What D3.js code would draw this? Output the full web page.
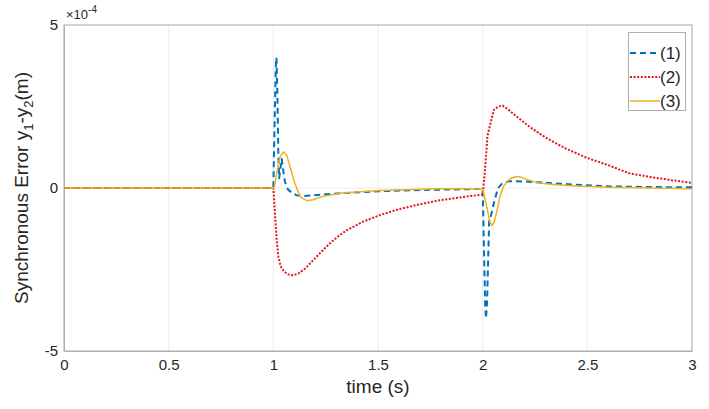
<!DOCTYPE html>
<html><head><meta charset="utf-8">
<script src="https://cdn.jsdelivr.net/npm/d3@7"></script>
<style>body{margin:0;background:#fff}svg{display:block;font-family:"Liberation Sans",Arial,sans-serif}</style>
</head><body><svg id="c" width="709" height="409"></svg>
<script>
// values in units of 1e-4 m
const s1t = [0,1.0,1.006,1.012,1.015,1.019,1.024,1.028,1.034,1.04,1.046,1.055,1.07,1.09,1.11,1.14,1.18,1.25,1.35,1.5,1.7,1.9,2.0,2.006,2.012,2.016,2.021,2.027,2.031,2.038,2.047,2.06,2.074,2.09,2.11,2.13,2.2,2.3,2.45,2.6,2.8,3.0];
const s1v = [0,0,2.0,3.8,4.0,3.0,1.0,0.3,0.6,0.9,0.6,0.2,-0.05,-0.15,-0.22,-0.25,-0.23,-0.19,-0.15,-0.1,-0.06,-0.04,-0.03,-1.8,-3.6,-4.0,-3.5,-2.0,-1.0,-0.9,-0.64,-0.3,0.0,0.12,0.18,0.21,0.2,0.16,0.1,0.05,0.03,0.02];
const s2t = [0,1.0,1.008,1.016,1.024,1.035,1.05,1.07,1.095,1.12,1.15,1.19,1.23,1.27,1.31,1.35,1.43,1.51,1.6,1.7,1.8,1.9,2.0,2.008,2.015,2.023,2.038,2.054,2.075,2.095,2.12,2.17,2.23,2.3,2.4,2.5,2.6,2.7,2.8,2.9,3.0];
const s2v = [0,0,-0.8,-1.6,-2.1,-2.4,-2.55,-2.65,-2.68,-2.62,-2.48,-2.22,-1.95,-1.7,-1.48,-1.3,-1.03,-0.83,-0.65,-0.5,-0.37,-0.28,-0.2,0.3,0.9,1.6,2.0,2.4,2.5,2.53,2.42,2.15,1.85,1.55,1.2,0.92,0.7,0.45,0.34,0.24,0.16];
const s3t = [0,1.0,1.005,1.016,1.032,1.048,1.064,1.08,1.103,1.128,1.16,1.19,1.24,1.32,1.43,1.51,1.6,1.7,1.8,1.9,2.0,2.01,2.02,2.035,2.045,2.055,2.07,2.083,2.1,2.115,2.135,2.16,2.18,2.21,2.27,2.35,2.45,2.6,2.8,3.0];
const s3v = [0,0,0.04,0.45,0.96,1.11,1.0,0.65,0.14,-0.27,-0.39,-0.36,-0.25,-0.16,-0.11,-0.08,-0.06,-0.04,-0.02,-0.02,-0.03,-0.3,-0.6,-1.05,-1.15,-1.05,-0.65,-0.25,0.05,0.18,0.3,0.35,0.34,0.26,0.15,0.1,0.06,0.02,0.0,-0.02];
const seriesNames = ["(1)","(2)","(3)"];
const xTicks = [0,0.5,1,1.5,2,2.5,3];
const yTicks = [-5,0,5];

const W=709,H=409,m={l:64,t:25,r:17,b:58};
const svg=d3.select("#c");
const x=d3.scaleLinear().domain([0,3]).range([m.l,W-m.r]);
const y=d3.scaleLinear().domain([-5,5]).range([H-m.b,m.t]);
const axisCol="#b0b0b0", txtCol="#262626";

// grid
svg.append("g").selectAll("line").data(xTicks).join("line")
  .attr("x1",d=>x(d)).attr("x2",d=>x(d)).attr("y1",m.t).attr("y2",H-m.b)
  .attr("stroke","#ececec").attr("stroke-width",1);
svg.append("g").selectAll("line").data(yTicks).join("line")
  .attr("y1",d=>y(d)).attr("y2",d=>y(d)).attr("x1",m.l).attr("x2",W-m.r)
  .attr("stroke","#ececec").attr("stroke-width",1);

// box
svg.append("rect").attr("x",m.l).attr("y",m.t).attr("width",W-m.l-m.r).attr("height",H-m.t-m.b)
  .attr("fill","none").attr("stroke",axisCol).attr("stroke-width",1);

// axes
const xa=svg.append("g").attr("transform",`translate(0,${H-m.b})`)
  .call(d3.axisBottom(x).tickValues(xTicks).tickSize(0).tickPadding(8).tickFormat(d3.format("~g")));
const ya=svg.append("g").attr("transform",`translate(${m.l},0)`)
  .call(d3.axisLeft(y).tickValues(yTicks).tickSize(0).tickPadding(6).tickFormat(d=>d<0?"-"+Math.abs(d):d));
[xa,ya].forEach(a=>{a.select(".domain").attr("stroke",axisCol);a.selectAll("text").attr("font-size",15).attr("fill",txtCol).attr("font-family","Liberation Sans, Arial, sans-serif");});

// exponent
const ex=svg.append("text").attr("x",m.l+2).attr("y",m.t-6).attr("font-size",13).attr("fill",txtCol);
ex.append("tspan").text("×10");
ex.append("tspan").attr("dy",-6).attr("font-size",10).text("-4");

// labels
svg.append("text").attr("x",(m.l+W-m.r)/2).attr("y",H-16).attr("text-anchor","middle")
  .attr("font-size",19).attr("fill",txtCol).text("time (s)");
const yl=svg.append("text").attr("transform",`translate(28,${(m.t+H-m.b)/2}) rotate(-90)`)
  .attr("text-anchor","middle").attr("font-size",19).attr("fill",txtCol);
yl.append("tspan").text("Synchronous Error y");
yl.append("tspan").attr("dy",5).attr("font-size",13).text("1");
yl.append("tspan").attr("dy",-5).text("-y");
yl.append("tspan").attr("dy",5).attr("font-size",13).text("2");
yl.append("tspan").attr("dy",-5).text("(m)");

const styles=[
 {c:"#0072BD",w:2,d:"6,4"},
 {c:"#E0141E",w:2,d:"2,1.6"},
 {c:"#EDB120",w:1.5,d:null}
];
const data=[[s1t,s1v],[s2t,s2v],[s3t,s3v]].map(([t,v])=>t.map((tt,i)=>[tt,v[i]]));
const line=d3.line().x(d=>x(d[0])).y(d=>y(d[1]));
const clip=svg.append("clipPath").attr("id","cp").append("rect").attr("x",m.l).attr("y",m.t).attr("width",W-m.l-m.r).attr("height",H-m.t-m.b);
const gl=svg.append("g").attr("clip-path","url(#cp)");
[0,1,2].forEach(i=>{
  gl.append("path").attr("d",line(data[i])).attr("fill","none").attr("stroke",styles[i].c)
   .attr("stroke-width",styles[i].w).attr("stroke-dasharray",styles[i].d).attr("stroke-linejoin","round");
});

// legend
const lg=svg.append("g");
lg.append("rect").attr("x",628.5).attr("y",32.5).attr("width",57).attr("height",78)
  .attr("fill","#fff").attr("stroke","#b0b0b0").attr("stroke-width",1);
seriesNames.forEach((n,i)=>{
  const yy=53+i*24;
  lg.append("line").attr("x1",630).attr("x2",660).attr("y1",yy).attr("y2",yy)
    .attr("stroke",styles[i].c).attr("stroke-width",styles[i].w).attr("stroke-dasharray",styles[i].d);
  lg.append("text").attr("x",660).attr("y",yy+6).attr("font-size",17).attr("fill",txtCol).text(n);
});
</script></body></html>
